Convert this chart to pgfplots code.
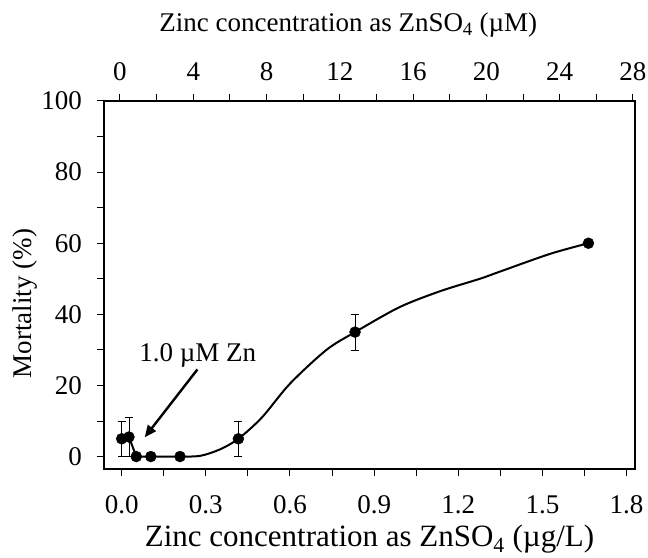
\documentclass[border=0pt]{standalone}
\usepackage{pgfplots}
\pgfplotsset{compat=1.18}
\usetikzlibrary{arrows.meta}
\usepackage{fontspec}
\setmainfont{Liberation Serif}
\begin{document}
\fontsize{27bp}{32bp}\selectfont
\begin{tikzpicture}
\pgfplotsset{
  common/.style={
    scale only axis, width=531bp, height=368bp,
    ymin=-3.5, ymax=100,
    tick align=outside,
    major tick length=7bp, minor tick length=7bp,
    tick style={black, line width=1bp},
    axis line style={black, line width=1.3bp},
    /pgf/number format/assume math mode=true,
    ticklabel style={font=\fontsize{27bp}{32bp}\selectfont},
    label style={font=\fontsize{27bp}{32bp}\selectfont},
  }
}
\begin{axis}[common,
  xmin=-0.063, xmax=1.830,
  xtick={0,0.3,0.6,0.9,1.2,1.5,1.8},
  minor xtick={0.15,0.45,0.75,1.05,1.35,1.65},
  ytick={0,20,40,60,80,100},
  minor ytick={10,30,50,70,90},
  xtick pos=bottom, ytick pos=left,
  xticklabel style={/pgf/number format/.cd, fixed, fixed zerofill, precision=1, /tikz/.cd, yshift=-10bp},
  yticklabel style={xshift=-6bp},
  xlabel={Zinc concentration as ZnSO\textsubscript{4} (µg/L)},
  ylabel={Mortality (\%)},
  xlabel style={at={(axis description cs:0.5,-0.19)}, anchor=center, font=\fontsize{31bp}{36bp}\selectfont},
  ylabel style={at={(axis description cs:-0.148,0.45)}, anchor=center, font=\fontsize{27bp}{32bp}\selectfont},
  clip=false,
]
\addplot[black, line width=2bp, sharp plot] coordinates {(0,5) (0.026,5.5) (0.052,0)};
\addplot[black, line width=2bp, smooth, tension=0.5] coordinates {
(0.052,0) (0.104,0) (0.208,0) (0.28,0.2) (0.35,2) (0.416,5) (0.5,11) (0.6,20.5) (0.73,30) (0.832,35) (0.99,42) (1.135,46.5) (1.277,50) (1.348,52) (1.527,57) (1.664,60)};
\addplot[only marks, mark=*, mark size=5.5bp, black,
  error bars/.cd, y dir=both, y explicit,
  error bar style={line width=0.7bp, black},
  error mark options={rotate=90, mark size=4bp, line width=0.7bp, black}]
  coordinates {
  (0,5) +- (0,5)
  (0.026,5.5) +- (0,5.5)
  (0.052,0) +- (0,0)
  (0.104,0) +- (0,0)
  (0.208,0) +- (0,0)
  (0.416,5) +- (0,5)
  (0.832,35) +- (0,5)
  (1.664,60) +- (0,0)
  };
\draw[-{Triangle[length=12bp,width=10bp]}, line width=2.4bp] (axis cs:0.27,24.5) -- (axis cs:0.082,5.4);
\node[anchor=west, inner sep=0pt] at (axis cs:0.062,28.5) {1.0 µM Zn};
\end{axis}
\begin{axis}[common,
  xmin=-0.873, xmax=28.11,
  axis x line*=top, axis y line=none,
  xtick={0,4,8,12,16,20,24,28},
  minor xtick={2,6,10,14,18,22,26},
  xticklabel style={yshift=4bp},
  xlabel={Zinc concentration as ZnSO\textsubscript{4} (µM)},
  xlabel style={at={(axis description cs:0.46,1.2065)}, anchor=center},
]
\addplot[draw=none] coordinates {(0,0)};
\end{axis}
\pgfresetboundingbox
\path[use as bounding box] (current axis.south west) ++(-104bp,-89bp) rectangle ++(648bp,558bp);
\end{tikzpicture}
\end{document}
